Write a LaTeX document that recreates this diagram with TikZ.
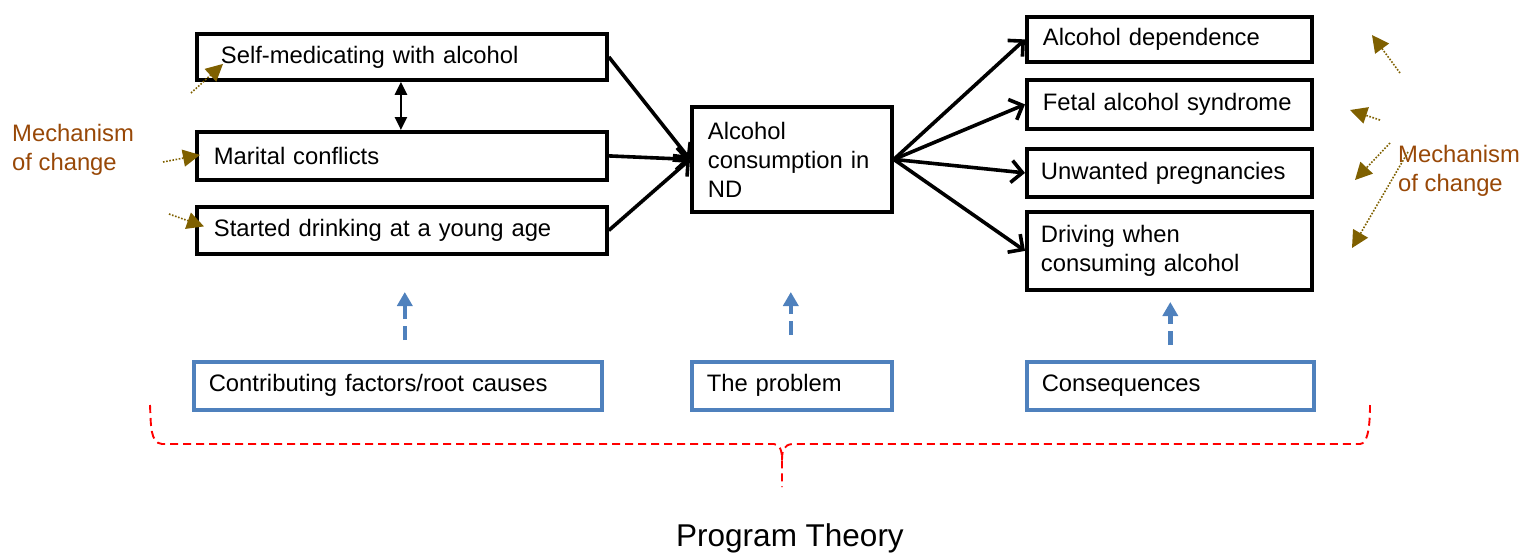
\documentclass[tikz,border=0pt]{standalone}
\usepackage{fontspec}
\setmainfont{Liberation Sans}
\usetikzlibrary{arrows.meta}
\definecolor{mechbrown}{HTML}{984807}
\definecolor{olivearr}{HTML}{7F6000}
\definecolor{boxblue}{HTML}{4F81BD}
\begin{document}
\begin{tikzpicture}[x=1pt,y=-1pt,
  txt/.style={font=\fontsize{23.8}{29}\selectfont},
  blkbox/.style={txt, draw, line width=3.8pt, rectangle, anchor=north west, align=left, inner ysep=1pt},
  bluebox/.style={txt, draw=boxblue, line width=3.6pt, rectangle, anchor=north west, align=left, inner ysep=1pt},
  blkarr/.style={line width=3.6pt, -{Straight Barb[length=11pt,width=22pt]}},
  dblarr/.style={line width=2.6pt, {Triangle[length=13pt,width=12pt]}-{Triangle[length=13pt,width=12pt]}},
  bluearr/.style={draw=boxblue, line width=4.5pt, dash pattern=on 14pt off 7pt on 60pt, -{Triangle[length=14pt,width=15pt]}},
  mecharr/.style={draw=olivearr, line width=1.6pt, dash pattern=on 1.6pt off 1.6pt, -{Triangle[length=17pt,width=17pt,fill=olivearr,color=olivearr]}},
  mechtxt/.style={txt, text=mechbrown, align=left, inner sep=0pt, anchor=west},
  bracestyle/.style={draw=red, line width=1.9pt, dash pattern=on 8pt off 5pt}
]
\useasboundingbox (0,0) rectangle (1535,554);

% left boxes
\node[blkbox, minimum width=410pt, minimum height=46pt, text width=362pt, inner xsep=24pt] (sm) at (195,32) {Self-medicating with alcohol};
\node[blkbox, minimum width=410pt, minimum height=48pt, text width=376pt, inner xsep=17pt] (mc) at (195,130) {Marital conflicts};
\node[blkbox, minimum width=410pt, minimum height=47pt, text width=376pt, inner xsep=17pt] (sd) at (195,205) {Started drinking at a young age};

% centre box
\node[blkbox, minimum width=200pt, minimum height=105pt, text width=168pt, inner xsep=16pt] (ac) at (690,105) {Alcohol\\consumption in\\ND};

% right boxes
\node[blkbox, minimum width=285pt, minimum height=45pt, text width=253pt, inner xsep=16pt] (ad) at (1025,15) {Alcohol dependence};
\node[blkbox, minimum width=285pt, minimum height=49pt, text width=253pt, inner xsep=16pt] (fa) at (1025,78) {Fetal alcohol syndrome};
\node[blkbox, minimum width=285pt, minimum height=48pt, text width=257pt, inner xsep=14pt] (up) at (1025,147) {Unwanted pregnancies};
\node[blkbox, minimum width=285pt, minimum height=78pt, text width=257pt, inner xsep=14pt] (dw) at (1025,210) {Driving when\\consuming alcohol};

% blue boxes
\node[bluebox, minimum width=408pt, minimum height=48pt, text width=378pt, inner xsep=15pt] (cf) at (192,360) {Contributing factors/root causes};
\node[bluebox, minimum width=200pt, minimum height=48pt, text width=170pt, inner xsep=15pt] (pr) at (690,360) {The problem};
\node[bluebox, minimum width=287pt, minimum height=48pt, text width=257pt, inner xsep=15pt] (co) at (1025,360) {Consequences};

% black arrows
\draw[blkarr] (sm.east) -- (ac.west);
\draw[blkarr] (mc.east) -- (ac.west);
\draw[blkarr] (sd.east) -- (ac.west);
\draw[blkarr] (ac.east) -- (ad.west);
\draw[blkarr] (ac.east) -- (fa.west);
\draw[blkarr] (ac.east) -- (up.west);
\draw[blkarr] (ac.east) -- (dw.west);
\draw[dblarr] ([xshift=-1pt]sm.south) -- ([xshift=-1pt]mc.north);

% blue dashed arrows
\draw[bluearr] ([xshift=7pt,yshift=20pt]cf.north) -- ([xshift=7pt,yshift=68pt]cf.north);
\draw[bluearr] ([xshift=-1pt,yshift=25pt]pr.north) -- ([xshift=-1pt,yshift=68pt]pr.north);
\draw[bluearr] ([yshift=15pt]co.north) -- ([yshift=58pt]co.north);

% mechanism of change texts
\node[mechtxt] (mL) at (12,150) {Mechanism\\of change};
\node[mechtxt] (mR) at (1398,171) {Mechanism\\of change};

% mechanism arrows (left)
\coordinate (tL1) at (191,93);
\coordinate (tL2) at (163,162);
\coordinate (tL3) at (169,214);
\draw[mecharr] (tL1) -- ([xshift=28pt,yshift=-7pt]sm.west);
\draw[mecharr] (tL2) -- ([xshift=5pt,yshift=1pt]mc.west);
\draw[mecharr] (tL3) -- ([xshift=9pt,yshift=4pt]sd.west);

% mechanism arrows (right)
\coordinate (tR1) at (1400,73);  \coordinate (hR1) at (1372,35);
\coordinate (tR2) at (1380,120); \coordinate (hR2) at (1350,110);
\coordinate (tR3) at (1390,143); \coordinate (hR3) at (1355,180);
\coordinate (tR4) at (1408,152); \coordinate (hR4) at (1352,248);
\draw[mecharr] (tR1) -- (hR1);
\draw[mecharr] (tR2) -- (hR2);
\draw[mecharr] (tR3) -- (hR3);
\draw[mecharr] (tR4) -- (hR4);

% red brace
\draw[bracestyle] (150,405) .. controls (151,425) and (150,443) .. (162,444) -- (774,444) .. controls (780,445) and (782,450) .. (782,460) -- (782,487);
\draw[bracestyle] (782,460) .. controls (782,450) and (784,445) .. (792,444) -- (1360,444) .. controls (1368,444) and (1370,425) .. (1370,405);

% title
\node[font=\fontsize{31.5}{38}\selectfont, inner sep=0pt] (pt) at (790,538) {Program Theory};
\end{tikzpicture}
\end{document}
